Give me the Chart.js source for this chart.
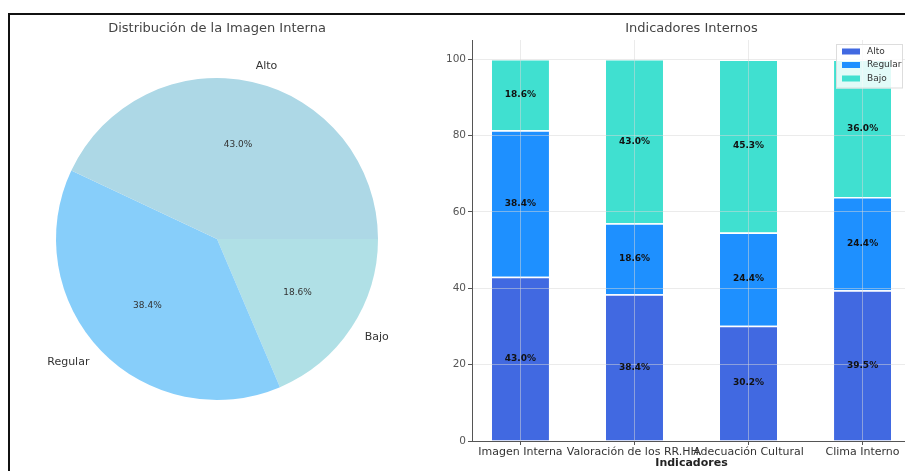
<!DOCTYPE html>
<html lang="es">
<head>
<meta charset="utf-8">
<title>Imagen e Indicadores Internos</title>
<script src="https://cdn.jsdelivr.net/npm/chart.js@4.4.1/dist/chart.umd.min.js"></script>
<style>
    html, body { margin: 0; padding: 0; background: #fff; width: 905px; height: 471px; overflow: hidden; }
    #frame { position: absolute; left: 8px; top: 13px; width: 1000px; height: 600px; border-left: 2px solid #111; border-top: 2px solid #111; }
    #pie-chart { position: absolute; left: 0; top: 0; }
    #bar-chart { position: absolute; left: 440px; top: 0; }
</style>
</head>
<body>
<div id="frame"></div>
<canvas id="pie-chart" width="435" height="471"></canvas>
<canvas id="bar-chart" width="480" height="471"></canvas>
<script>
const el = (id) => document.getElementById(id);

// datos
const niveles = ['Alto', 'Regular', 'Bajo'];
const imagenInterna = [43.0, 38.4, 18.6];

const indicadores = ['Imagen Interna', 'Valoración de los RR.HH.', 'Adecuación Cultural', 'Clima Interno'];
const alto = [43.0, 38.4, 30.2, 39.5];
const regular = [38.4, 18.6, 24.4, 24.4];
const bajo = [18.6, 43.0, 45.3, 36.0];
const yTicks = [0, 20, 40, 60, 80, 100];

const pieColors = ['#ADD8E6', '#87CEFA', '#B0E0E6'];
const barColors = ['#4169E1', '#1E90FF', '#40E0D0'];

const FONT = '"DejaVu Sans", sans-serif';
Chart.defaults.font.family = FONT;

// % inside each slice, name outside
const pieLabels = {
    id: 'pieLabels',
    afterDatasetsDraw(chart) {
        const { ctx } = chart;
        const ds = chart.data.datasets[0];
        ctx.save();
        ctx.textBaseline = 'middle';
        chart.getDatasetMeta(0).data.forEach((arc, i) => {
            const { x, y, startAngle, endAngle, outerRadius } =
                arc.getProps(['x', 'y', 'startAngle', 'endAngle', 'outerRadius'], true);
            const mid = (startAngle + endAngle) / 2;
            const cos = Math.cos(mid), sin = Math.sin(mid);
            ctx.fillStyle = '#333';
            ctx.font = '9px ' + FONT;
            ctx.textAlign = 'center';
            ctx.fillText(ds.data[i].toFixed(1) + '%', x + cos * outerRadius * 0.6, y + sin * outerRadius * 0.6);
            ctx.font = '11px ' + FONT;
            ctx.textAlign = cos >= 0 ? 'left' : 'right';
            ctx.fillText(chart.data.labels[i], x + cos * outerRadius * 1.1, y + sin * outerRadius * 1.1);
        });
        ctx.restore();
    }
};

// value in the middle of each stacked segment
const barLabels = {
    id: 'barLabels',
    afterDraw(chart) {
        const { ctx } = chart;
        ctx.save();
        ctx.font = 'bold 9px ' + FONT;
        ctx.fillStyle = '#111';
        ctx.textAlign = 'center';
        ctx.textBaseline = 'middle';
        chart.data.datasets.forEach((ds, k) => {
            chart.getDatasetMeta(k).data.forEach((bar, i) => {
                ctx.fillText(ds.data[i].y.toFixed(1) + '%', bar.x, (bar.y + bar.base) / 2);
            });
        });
        ctx.restore();
    }
};

// small boxed legend in the upper right corner of the plot
const cornerLegend = {
    id: 'cornerLegend',
    afterDraw(chart) {
        const { ctx, chartArea } = chart;
        const sets = chart.data.datasets;
        const w = 67, rowH = 13.5;
        const h = rowH * sets.length + 4;
        const left = chartArea.right - w - 8, top = chartArea.top + 4;
        ctx.save();
        ctx.fillStyle = 'rgba(255,255,255,0.85)';
        ctx.strokeStyle = '#ddd';
        ctx.lineWidth = 1;
        ctx.fillRect(left, top, w, h);
        ctx.strokeRect(left + 0.5, top + 0.5, w - 1, h - 1);
        ctx.font = '9px ' + FONT;
        ctx.textAlign = 'left';
        ctx.textBaseline = 'middle';
        sets.forEach((ds, i) => {
            const cy = top + 7.5 + rowH * i;
            ctx.fillStyle = ds.backgroundColor;
            ctx.fillRect(left + 6, cy - 3, 18, 6);
            ctx.fillStyle = '#333';
            ctx.fillText(ds.label, left + 31, cy);
        });
        ctx.restore();
    }
};

// pie, drawn clockwise from 3 o'clock so the order is reversed
new Chart(el('pie-chart').getContext('2d'), {
    type: 'pie',
    data: {
        labels: [...niveles].reverse(),
        datasets: [{
            data: [...imagenInterna].reverse(),
            backgroundColor: [...pieColors].reverse(),
            borderWidth: 0,
            hoverBorderWidth: 0,
            hoverOffset: 0,
            offset: 0
        }]
    },
    options: {
        responsive: false,
        animation: false,
        events: [],
        rotation: 90,
        layout: { padding: { left: 56, right: 57, top: 0, bottom: 71 } },
        plugins: {
            legend: { display: false },
            tooltip: { enabled: false },
            title: {
                display: true,
                text: 'Distribución de la Imagen Interna',
                fullSize: false,
                color: '#444',
                font: { size: 13, weight: 'normal' },
                padding: { top: 21, bottom: 41.4 }
            }
        }
    },
    plugins: [pieLabels]
});

const gridColor = 'rgba(215,215,215,0.5)';

new Chart(el('bar-chart').getContext('2d'), {
    type: 'bar',
    data: {
        datasets: [alto, regular, bajo].map((vals, k) => ({
            label: niveles[k],
            data: vals.map((v, i) => ({ x: i, y: v })),
            backgroundColor: barColors[k],
            borderColor: 'rgba(255,255,255,0.7)',
            borderWidth: { top: 1.5, right: 0, bottom: 0, left: 0 },
            borderSkipped: false,
            barPercentage: 0.5,
            categoryPercentage: 1
        }))
    },
    options: {
        responsive: false,
        animation: false,
        events: [],
        layout: { padding: { left: 0, right: 9, top: 0, bottom: 0 } },
        scales: {
            x: {
                type: 'linear',
                stacked: true,
                offset: false,
                min: -0.425,
                max: 3.425,
                afterBuildTicks: (axis) => { axis.ticks = indicadores.map((_, i) => ({ value: i })); },
                afterFit: (axis) => { axis.height = 30; },
                ticks: {
                    autoSkip: false,
                    maxRotation: 0,
                    minRotation: 0,
                    padding: 1,
                    color: '#333',
                    font: { size: 11 },
                    callback: (v) => indicadores[v]
                },
                grid: { offset: false, color: gridColor, z: 1, tickLength: 4, tickColor: '#555' },
                border: { color: '#555', width: 1, z: 2 },
                title: {
                    display: true,
                    text: 'Indicadores',
                    color: '#222',
                    font: { size: 11, weight: 'bold' },
                    padding: { top: 0, bottom: 1 }
                }
            },
            y: {
                stacked: true,
                min: 0,
                max: 105,
                afterBuildTicks: (axis) => { axis.ticks = yTicks.map((v) => ({ value: v })); },
                afterFit: (axis) => { axis.width = 32; },
                ticks: { padding: 2, color: '#555', font: { size: 10.5 } },
                grid: { color: gridColor, z: 1, tickLength: 4, tickColor: '#555' },
                border: { color: '#555', width: 1, z: 2 }
            }
        },
        plugins: {
            legend: { display: false },
            tooltip: { enabled: false },
            title: {
                display: true,
                text: 'Indicadores Internos',
                fullSize: false,
                color: '#444',
                font: { size: 13, weight: 'normal' },
                padding: { top: 21, bottom: 3.4 }
            }
        }
    },
    plugins: [barLabels, cornerLegend]
});
</script>
</body>
</html>
